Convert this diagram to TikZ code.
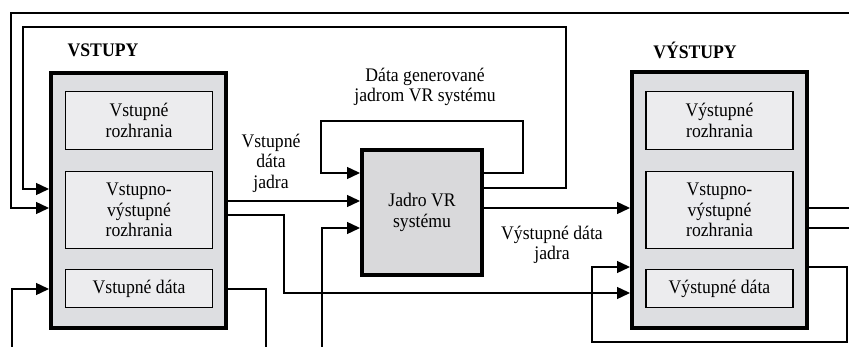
\documentclass[tikz,border=0pt]{standalone}
\usepackage{fontspec}
\setmainfont[FakeStretch=0.92]{Liberation Serif}
\usetikzlibrary{arrows.meta}
\definecolor{outerfill}{RGB}{221,222,225}
\definecolor{innerfill}{RGB}{236,236,238}
\definecolor{corefill}{RGB}{217,217,219}
\newcommand{\txt}{\fontsize{19.2}{20.5}\selectfont}
\begin{document}
\begin{tikzpicture}[x=1pt,y=-1pt,
  outerbox/.style={draw, line width=4pt, fill=outerfill, inner sep=0pt},
  innerbox/.style={draw, line width=1.2pt, fill=innerfill, minimum width=147pt, align=center, inner sep=0pt, font=\txt},
  corebox/.style={draw, line width=4pt, fill=corefill, minimum width=120pt, minimum height=125pt, align=center, font=\txt},
  lbl/.style={align=center, font=\txt, inner sep=0pt},
  head/.style={font=\txt\bfseries, inner sep=0pt},
  conn/.style={line width=1.4pt},
  arr/.style={conn, -{Triangle[length=13pt,width=12pt]}}]
\fill[white] (0,0) rectangle (849,347);
\useasboundingbox (0,0) rectangle (849,347);

% boxes
\node[outerbox, minimum width=175pt, minimum height=255pt] (lbox) at (138.5,200.5) {};
\node[innerbox, minimum height=58pt] (l1) at (139,120.5) {Vstupné\\rozhrania};
\node[innerbox, minimum height=77pt] (l2) at (139,210) {Vstupno-\\výstupné\\rozhrania};
\node[innerbox, minimum height=38pt] (l3) at (139,288.5) {Vstupné dáta};

\node[corebox] (core) at (422,212.5) {Jadro VR\\systému};

\node[outerbox, minimum width=175pt, minimum height=256pt] (rbox) at (719.5,200) {};
\node[innerbox, minimum height=58pt] (r1) at (719.5,120.5) {Výstupné\\rozhrania};
\node[innerbox, minimum height=77pt] (r2) at (719.5,210) {Vstupno-\\výstupné\\rozhrania};
\node[innerbox, minimum height=38pt] (r3) at (719.5,288.5) {Výstupné dáta};

% labels
\node[head] (hin) at (103,50) {VSTUPY};
\node[head] (hout) at (695,50) {VÝSTUPY};
\node[lbl] (lgen) at (425,87) {Dáta generované\\jadrom VR systému};
\node[lbl] (lin) at (271,163) {Vstupné\\dáta\\jadra};
\node[lbl] (lout) at (552,245) {Výstupné dáta\\jadra};

% free ends
\coordinate (e1) at (849,13);
\coordinate (e2) at (849,208);
\coordinate (e3) at (849,228);
\coordinate (b1) at (266,347);
\coordinate (b2) at (12,347);
\coordinate (b3) at (322,347);

% connectors
\draw[arr] (e1) -- (11,13) |- (lbox.west |- 0,208);
\draw[arr] (core.east |- 0,188) -| (566,27) -| (23,189) -- (lbox.west |- 0,189);
\draw[arr] (lbox.east |- 0,201) -- (core.west |- 0,201);
\draw[arr] (lbox.east |- 0,215) -| (284,293) -- (rbox.west |- 0,293);
\draw[conn] (lbox.east |- 0,289) -| (b1);
\draw[arr] (b2) |- (lbox.west |- 0,289);
\draw[arr] (core.east |- 0,173) -| (523,121) -| (321,173) -- (core.west |- 0,173);
\draw[arr] (b3) |- (core.west |- 0,228);
\draw[arr] (core.east |- 0,208) -- (rbox.west |- 0,208);
\draw[conn] (rbox.east |- 0,208) -- (e2);
\draw[conn] (rbox.east |- 0,228) -- (e3);
\draw[arr] (rbox.east |- 0,267) -| (847,342) -| (592,267) -- (rbox.west |- 0,267);
\end{tikzpicture}
\end{document}
